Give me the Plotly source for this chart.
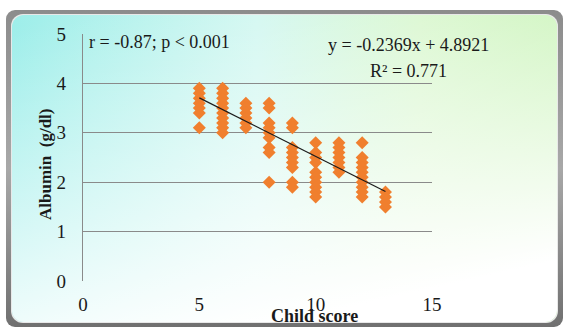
import base64
import plotly.graph_objects as go

# ---- data ----
score_5 = [3.9, 3.8, 3.7, 3.6, 3.5, 3.4, 3.1]
score_6 = [3.9, 3.8, 3.7, 3.6, 3.5, 3.4, 3.3, 3.2, 3.1, 3.0]
score_7 = [3.6, 3.5, 3.4, 3.3, 3.2, 3.1]
score_8 = [3.6, 3.5, 3.2, 3.1, 3.0, 2.9, 2.7, 2.6, 2.0]
score_9 = [3.2, 3.1, 2.7, 2.6, 2.5, 2.4, 2.3, 2.0, 1.9]
score_10 = [2.8, 2.6, 2.5, 2.4, 2.2, 2.1, 2.0, 1.9, 1.8, 1.7]
score_11 = [2.8, 2.7, 2.6, 2.5, 2.4, 2.3, 2.2]
score_12 = [2.8, 2.5, 2.4, 2.3, 2.2, 2.1, 2.0, 1.9, 1.8, 1.7]
score_13 = [1.8, 1.7, 1.6, 1.5]
albumin_by_score = {5: score_5, 6: score_6, 7: score_7, 8: score_8, 9: score_9,
                    10: score_10, 11: score_11, 12: score_12, 13: score_13}
slope = -0.2369
intercept = 4.8921
trend_x = [5, 13]
x_ticks = [0, 5, 10, 15]
y_ticks = [0, 1, 2, 3, 4, 5]

xs, ys = [], []
for s, vals in albumin_by_score.items():
    xs += [s] * len(vals)
    ys += vals
trend_y = [slope * x + intercept for x in trend_x]

W, H = 567, 331
L, R, T, B = 83, 135, 34, 50
pw, ph = W - L - R, H - T - B

svg = f'''<svg xmlns="http://www.w3.org/2000/svg" width="{W}" height="{H}" viewBox="0 0 {W} {H}">
<defs>
<linearGradient id="fr" x1="0" y1="0" x2="0" y2="1">
<stop offset="0" stop-color="#8c8c8c"/><stop offset="0.5" stop-color="#a8a8a8"/><stop offset="1" stop-color="#707070"/>
</linearGradient>
<linearGradient id="g1" x1="0" y1="0" x2="1" y2="0">
<stop offset="0" stop-color="#9eeeea"/><stop offset="0.45" stop-color="#d0f7f0"/><stop offset="0.75" stop-color="#d4f6c8"/><stop offset="1" stop-color="#c2f2ae"/>
</linearGradient>
<linearGradient id="g2" x1="0.1" y1="0" x2="0.5" y2="1">
<stop offset="0" stop-color="#ffffff" stop-opacity="0"/><stop offset="0.55" stop-color="#ffffff" stop-opacity="0.55"/><stop offset="1" stop-color="#ffffff" stop-opacity="1"/>
</linearGradient>
</defs>
<rect x="0" y="0" width="{W}" height="{H}" fill="#ffffff"/>
<rect x="6" y="10" width="557" height="317" rx="9" fill="url(#fr)"/>
<rect x="11" y="14" width="547" height="309" rx="12" fill="#e8e8e8"/>
<rect x="12" y="15" width="545" height="307" rx="12" fill="url(#g1)"/>
<rect x="12" y="15" width="545" height="307" rx="12" fill="url(#g2)"/>
</svg>'''
bg_uri = "data:image/svg+xml;base64," + base64.b64encode(svg.encode()).decode()

font = "Liberation Serif, Times New Roman, serif"

fig = go.Figure()
fig.add_trace(go.Scatter(x=xs, y=ys, mode="markers",
                         marker=dict(symbol="diamond", size=10, color="#f07f2e"),
                         hoverinfo="skip", showlegend=False))
fig.add_trace(go.Scatter(x=trend_x, y=trend_y, mode="lines",
                         line=dict(color="#1a1a1a", width=1.2),
                         hoverinfo="skip", showlegend=False))

fig.update_layout(
    width=W, height=H,
    margin=dict(l=L, r=R, t=T, b=B),
    paper_bgcolor="white", plot_bgcolor="rgba(0,0,0,0)",
    font=dict(family=font, size=19, color="#1a1a1a"),
    images=[dict(source=bg_uri, xref="paper", yref="paper",
                 x=-L / pw, y=1 + T / ph, sizex=W / pw, sizey=H / ph,
                 xanchor="left", yanchor="top", sizing="stretch", layer="below")],
    xaxis=dict(range=[0, 15], tickvals=x_ticks, showgrid=False, zeroline=False,
               showline=False, ticks="", ticklabelstandoff=10,
               tickfont=dict(size=19)),
    yaxis=dict(range=[0, 5], tickvals=y_ticks, showgrid=True, gridcolor="#8a8a8a",
               gridwidth=1.3, zeroline=False, showline=True, linecolor="#8a8a8a",
               linewidth=1.3, ticks="", ticklabelstandoff=12,
               tickfont=dict(size=19)),
    annotations=[
        dict(text="r = -0.87; p &lt; 0.001", xref="paper", yref="paper",
             x=4 / pw, y=1 - 8 / ph, xanchor="left", yanchor="middle",
             showarrow=False, font=dict(size=18)),
        dict(text="y = -0.2369x + 4.8921", xref="paper", yref="paper",
             x=(408 - L) / pw, y=1 - 11 / ph, xanchor="center", yanchor="middle",
             showarrow=False, font=dict(size=18)),
        dict(text="R² = 0.771", xref="paper", yref="paper",
             x=(408 - L) / pw, y=1 - 37 / ph, xanchor="center", yanchor="middle",
             showarrow=False, font=dict(size=18)),
        dict(text="<b>Child score</b>", xref="paper", yref="paper",
             x=(314 - L) / pw, y=-(316 - T - ph) / ph, xanchor="center", yanchor="middle",
             showarrow=False, font=dict(size=18)),
        dict(text="<b>Albumin  (g/dl)</b>", xref="paper", yref="paper",
             x=-(L - 45) / pw, y=1 - (165 - T) / ph, xanchor="center", yanchor="middle",
             textangle=-90, showarrow=False, font=dict(size=17)),
    ],
)

fig.write_html("out.html", config={"displayModeBar": False},
               post_script="document.body.style.margin='0';document.body.style.overflow='hidden';")
